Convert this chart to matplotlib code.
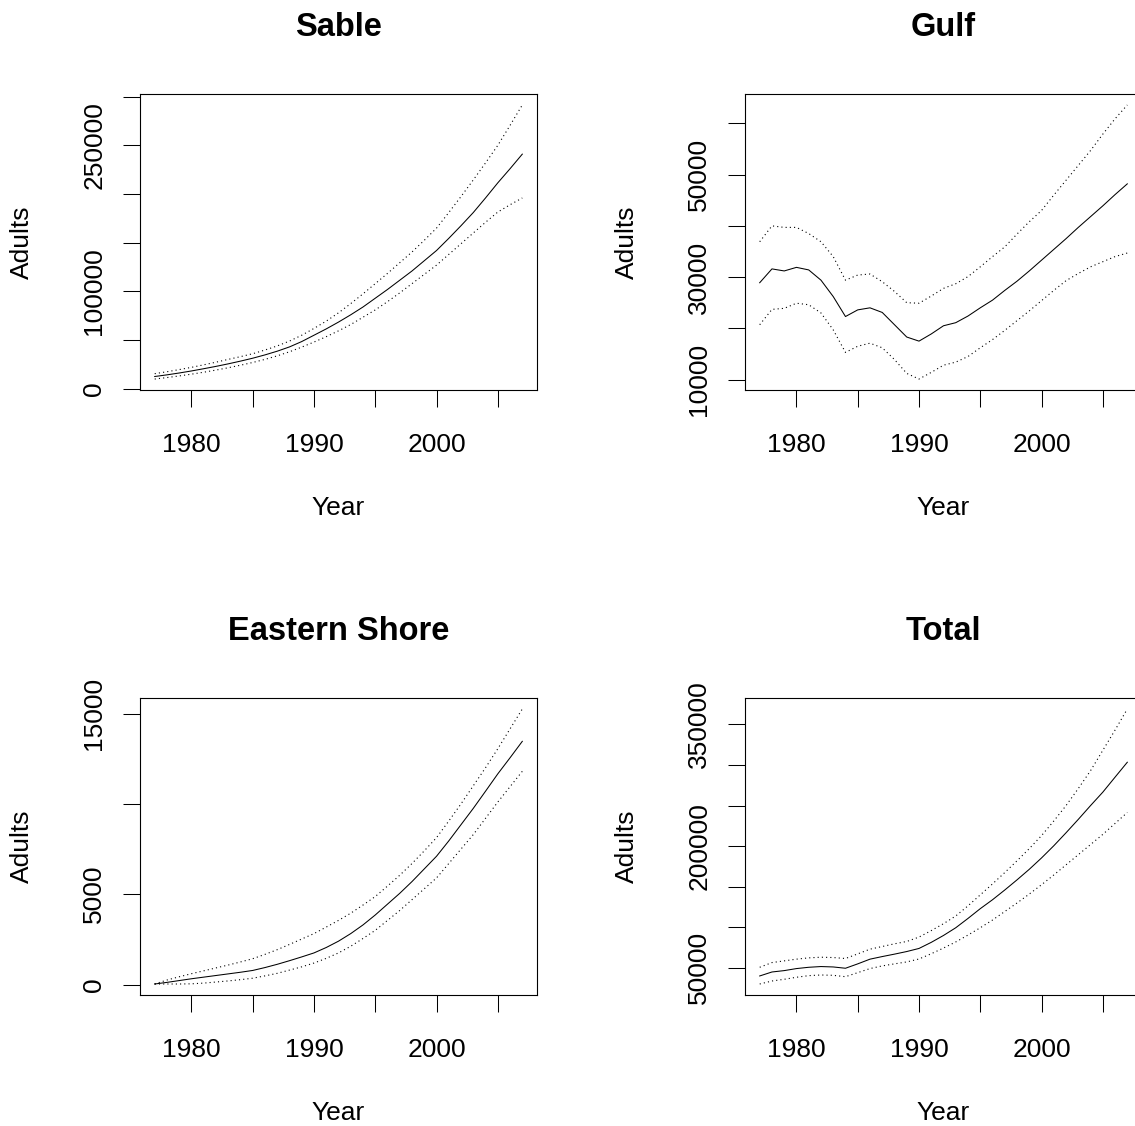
import matplotlib
matplotlib.use("Agg")
import matplotlib.pyplot as plt
import numpy as np

plt.rcParams['font.family'] = ['Liberation Sans', 'DejaVu Sans']

years = np.arange(1977, 2008)

# Sable
sable_mid = [12600, 14300, 16200, 18300, 20600, 23000, 25600, 28400, 31400, 34800,
             38600, 43000, 48500, 55000, 61500, 68500, 76000, 84000, 93000, 102000,
             111500, 121000, 131500, 142000, 154500, 167500, 181000, 196000, 211500, 226000,
             241000]
sable_hi = [15500, 17500, 19700, 22000, 24600, 27300, 30200, 33000, 36000, 39800,
            44000, 49000, 55000, 62000, 69500, 78000, 87500, 97500, 108000, 118500,
            129500, 140500, 152500, 165000, 181000, 197500, 214500, 232000, 250000, 270500,
            291500]
sable_lo = [10000, 11500, 13200, 15000, 17000, 19200, 21600, 24200, 27000, 30200,
            33800, 38000, 42800, 48000, 53500, 59500, 66000, 73500, 81000, 89500,
            98500, 108000, 117500, 127000, 138000, 149000, 160000, 171000, 181500, 189000,
            196000]

# Gulf
gulf_mid = [28900, 31600, 31200, 31900, 31400, 29400, 26200, 22300, 23600, 24000,
            23100, 20700, 18300, 17500, 18900, 20500, 21100, 22400, 24000, 25500,
            27400, 29200, 31200, 33300, 35400, 37500, 39700, 41800, 43900, 46100,
            48200]
gulf_hi = [36900, 40000, 39700, 39700, 38500, 36900, 34000, 29400, 30400, 30600,
           29100, 27200, 25000, 24900, 26300, 27800, 28700, 30100, 32000, 34000,
           35900, 38400, 40800, 43000, 46000, 48900, 51800, 54700, 57900, 60900,
           63600]
gulf_lo = [20700, 23700, 23900, 24900, 24600, 23000, 19700, 15300, 16500, 17100,
           16200, 13900, 11200, 10100, 11400, 12800, 13400, 14500, 16200, 17800,
           19600, 21500, 23400, 25400, 27400, 29300, 30700, 32000, 33000, 34000,
           34700]

# Eastern Shore
east_mid = [30, 120, 220, 320, 410, 500, 590, 680, 780, 940,
            1120, 1320, 1530, 1750, 2050, 2400, 2820, 3300, 3850, 4450,
            5050, 5700, 6400, 7100, 7950, 8850, 9750, 10700, 11660, 12550,
            13460]
east_hi = [30, 250, 430, 600, 760, 920, 1080, 1250, 1430, 1670,
           1930, 2220, 2520, 2820, 3180, 3550, 3950, 4400, 4870, 5450,
           6050, 6700, 7400, 8130, 9050, 10000, 11000, 12000, 13050, 14150,
           15250]
east_lo = [30, 30, 30, 40, 80, 140, 200, 270, 350, 480,
           620, 800, 980, 1190, 1450, 1750, 2120, 2550, 3000, 3550,
           4100, 4700, 5300, 5900, 6700, 7500, 8300, 9200, 10100, 10950,
           11800]

# Total
total_mid = [40100, 45000, 46700, 49200, 50800, 51700, 51200, 49600, 55000, 60800,
             64000, 67000, 70200, 74000, 81500, 90000, 99500, 111000, 123000, 134000,
             146000, 158500, 171500, 185500, 200500, 216500, 233000, 250000, 266500, 285000,
             303400]
total_hi = [50800, 56600, 58700, 60800, 62400, 63200, 62800, 61600, 67300, 73100,
            76400, 79700, 82600, 88000, 96000, 104500, 114000, 126500, 140000, 153500,
            167500, 182000, 197000, 213000, 231000, 250000, 271000, 293000, 318000, 343000,
            369000]
total_lo = [30200, 33900, 36000, 38500, 40500, 41300, 40900, 39200, 44200, 49200,
            52500, 55000, 57400, 61000, 67500, 74500, 82000, 90500, 99500, 109000,
            119500, 130000, 141000, 152500, 164500, 177000, 189500, 202000, 214500, 228000,
            241500]

titles = ["Sable", "Gulf", "Eastern Shore", "Total"]
series = [(sable_mid, sable_hi, sable_lo), (gulf_mid, gulf_hi, gulf_lo),
          (east_mid, east_hi, east_lo), (total_mid, total_hi, total_lo)]

xticks = [1980, 1985, 1990, 1995, 2000, 2005]
xlabels = ["1980", "", "1990", "", "2000", ""]

yticks = [
    [0, 50000, 100000, 150000, 200000, 250000, 300000],
    [10000, 20000, 30000, 40000, 50000, 60000],
    [0, 5000, 10000, 15000],
    [50000, 100000, 150000, 200000, 250000, 300000, 350000],
]
ylabels = [
    ["0", "", "100000", "", "", "250000", ""],
    ["10000", "", "30000", "", "50000", ""],
    ["0", "5000", "", "15000"],
    ["50000", "", "", "200000", "", "", "350000"],
]

W, H = 1135, 1126
fig = plt.figure(figsize=(W / 100, H / 100), dpi=100)

# axes boxes in pixels: left, top, right, bottom
boxes = [(140, 94, 537, 390), (745, 94, 1142, 390),
         (140, 698, 537, 995), (745, 698, 1142, 995)]

for i, (l, t, r, b) in enumerate(boxes):
    ax = fig.add_axes([l / W, 1 - b / H, (r - l) / W, (b - t) / H])
    mid, hi, lo = series[i]
    ax.plot(years, mid, color='black', lw=0.75)
    ax.plot(years, hi, color='black', lw=0.8, linestyle=(0, (1, 2.8)))
    ax.plot(years, lo, color='black', lw=0.8, linestyle=(0, (1, 2.8)))
    ax.margins(x=0.04, y=0.04)

    ax.set_xticks(xticks)
    ax.set_xticklabels(xlabels)
    ax.set_yticks(yticks[i])
    ax.set_yticklabels(ylabels[i], rotation=90, va='center')
    ax.tick_params(axis='both', direction='out', length=12.2, width=0.75,
                   labelsize=19, color='black')
    ax.tick_params(axis='x', pad=19)
    ax.tick_params(axis='y', pad=12)
    for s in ax.spines.values():
        s.set_linewidth(0.8)
        s.set_color('black')

    ax.set_title(titles[i], fontsize=23.5, fontweight='bold', pad=42)
    ax.set_xlabel("Year", fontsize=19)
    ax.set_ylabel("Adults", fontsize=19)
    ax.xaxis.set_label_coords(0.5, (390 - 508) / 296)
    ax.xaxis.label.set_verticalalignment('center')
    ax.yaxis.set_label_coords((22 - 140) / 397, 0.5)
    ax.yaxis.label.set_verticalalignment('center')

fig.savefig("out.png", dpi=100)
